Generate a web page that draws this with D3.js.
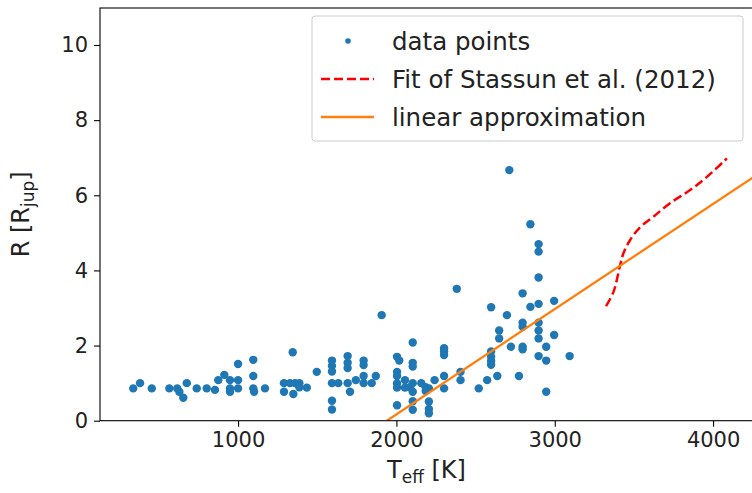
<!DOCTYPE html>
<html>
<head>
<meta charset="utf-8">
<script src="https://cdn.jsdelivr.net/npm/d3@7"></script>
<style>
  body { margin: 0; background: #fff; }
  svg { display: block; font-family: "DejaVu Sans", sans-serif; }
</style>
</head>
<body>
<svg id="chart" width="752" height="493"></svg>
<script>
// Data points: effective temperature [K] and radius [R_jup]
const teff = [
  338, 381, 455, 566, 616, 629, 654, 676, 739, 802, 854, 875, 913, 949, 949, 949,
  1000, 1000, 1000, 1096, 1096, 1096, 1101, 1170,
  1290, 1328, 1360, 1387, 1290, 1349, 1387, 1434, 1345, 1497,
  1593, 1593, 1593, 1593, 1633, 1593, 1593,
  1692, 1692, 1692, 1692, 1707, 1744, 1793, 1793, 1793, 1793, 1844, 1870, 1907,
  2004, 2018, 2103, 2103, 2103, 2004, 2004, 2004, 2004, 2054, 2054, 2086, 2103, 2103,
  2004, 2103, 2103, 2157, 2185, 2205, 2205, 2205, 2205, 2185, 2241,
  2301, 2301, 2301, 2301, 2301, 2381, 2405, 2405, 2520,
  2573, 2598, 2598, 2598, 2598, 2598, 2637, 2649, 2649, 2698, 2713, 2723, 2774,
  2797, 2797, 2797, 2797, 2797, 2846, 2846,
  2898, 2898, 2898, 2898, 2898, 2898, 2898, 2898,
  2946, 2946, 2946, 2996, 2996, 3094
];
const radius = [
  0.86, 1.00, 0.86, 0.86, 0.86, 0.77, 0.61, 1.00, 0.86, 0.86, 0.82, 1.08, 1.22, 1.08, 0.86, 0.77,
  1.08, 0.86, 1.51, 1.62, 1.19, 0.86, 0.77, 0.86,
  1.00, 1.00, 1.00, 1.00, 0.77, 0.71, 0.89, 0.88, 1.82, 1.30,
  1.60, 1.46, 1.31, 1.00, 1.00, 0.53, 0.30,
  1.72, 1.54, 1.40, 1.00, 0.77, 1.08, 1.60, 1.48, 1.19, 1.00, 1.00, 1.19, 2.81,
  1.70, 1.60, 2.08, 1.54, 1.44, 1.30, 1.19, 0.99, 0.88, 1.08, 0.88, 0.89, 1.00, 0.77,
  0.41, 0.52, 0.29, 1.00, 0.89, 0.86, 0.51, 0.31, 0.20, 0.79, 1.08,
  1.93, 1.84, 1.75, 1.19, 0.86, 3.51, 1.30, 1.08, 0.86,
  1.08, 1.84, 1.70, 1.59, 1.49, 3.02, 1.19, 2.40, 2.19, 2.81, 6.67, 1.97, 1.19,
  3.39, 2.61, 2.50, 1.97, 1.90, 5.23, 3.03,
  4.70, 4.50, 3.81, 3.11, 2.61, 2.40, 2.19, 1.72,
  1.97, 1.60, 0.77, 3.19, 2.28, 1.72
];

// Fit of Stassun et al. (2012)
const stassunT = [3324, 3371, 3413, 3434, 3476, 3539, 3623, 3728, 3855, 3961, 4087];
const stassunR = [3.05, 3.43, 4.14, 4.46, 4.81, 5.15, 5.43, 5.79, 6.14, 6.49, 6.98];

// Linear approximation (endpoints)
const linearT = [1940, 4260];
const linearR = [0.0, 6.50];

// Ticks
const xTicks = [1000, 2000, 3000, 4000];
const yTicks = [0, 2, 4, 6, 8, 10];

const legendLabels = ["data points", "Fit of Stassun et al. (2012)", "linear approximation"];

const svg = d3.select("#chart");
const L = 100, R = 753, T = 8, B = 420.7;

const x = d3.scaleLinear().domain([128, 4252]).range([L, R]);
const y = d3.scaleLinear().domain([0, 10.985]).range([B, T]);

svg.append("defs").append("clipPath").attr("id", "clip")
  .append("rect").attr("x", L).attr("y", T).attr("width", R - L).attr("height", B - T);

const plot = svg.append("g").attr("clip-path", "url(#clip)");

// scatter
plot.selectAll("circle.pt").data(teff.map((t, i) => [t, radius[i]]))
  .enter().append("circle")
  .attr("class", "pt")
  .attr("cx", d => x(d[0]))
  .attr("cy", d => y(d[1]))
  .attr("r", 4.2)
  .attr("fill", "#1f77b4");

// stassun fit
const stassun = stassunT.map((t, i) => [t, stassunR[i]]);
plot.append("path")
  .attr("d", d3.line().x(d => x(d[0])).y(d => y(d[1])).curve(d3.curveCatmullRom)(stassun))
  .attr("fill", "none")
  .attr("stroke", "#ff0000")
  .attr("stroke-width", 2.5)
  .attr("stroke-dasharray", "9,4");

// linear
const lin = linearT.map((t, i) => [t, linearR[i]]);
plot.append("path")
  .attr("d", d3.line().x(d => x(d[0])).y(d => y(d[1]))(lin))
  .attr("fill", "none")
  .attr("stroke", "#ff7f0e")
  .attr("stroke-width", 2.3);

// axes
const xAxis = d3.axisBottom(x).tickValues(xTicks).tickSize(6).tickPadding(5).tickFormat(d3.format("d"));
const yAxis = d3.axisLeft(y).tickValues(yTicks).tickSize(6).tickPadding(6).tickFormat(d3.format("d"));

const gx = svg.append("g").attr("transform", `translate(0,${B})`).call(xAxis);
const gy = svg.append("g").attr("transform", `translate(${L},0)`).call(yAxis);
[gx, gy].forEach(g => {
  g.select(".domain").remove();
  g.selectAll(".tick line").attr("stroke", "#000").attr("stroke-width", 1.1);
  g.selectAll(".tick text").attr("fill", "#222").style("font-size", "21px").style("font-family", "DejaVu Sans");
});

// spines
const spine = svg.append("g").attr("fill", "none").attr("stroke", "#000").attr("stroke-width", 1.1);
spine.append("rect").attr("x", L).attr("y", T).attr("width", R - L).attr("height", B - T);

// axis labels
const xl = svg.append("text").attr("x", (L + R) / 2).attr("y", 478)
  .attr("text-anchor", "middle").attr("fill", "#222").style("font-size", "24px");
xl.append("tspan").text("T");
xl.append("tspan").attr("dy", 5).style("font-size", "17px").text("eff");
xl.append("tspan").attr("dy", -5).text(" [K]");

const yl = svg.append("text").attr("transform", `translate(29,${(T + B) / 2}) rotate(-90)`)
  .attr("text-anchor", "middle").attr("fill", "#222").style("font-size", "24px");
yl.append("tspan").text("R [R");
yl.append("tspan").attr("dy", 5).style("font-size", "17px").text("jup");
yl.append("tspan").attr("dy", -5).text("]");

// legend
const lg = svg.append("g");
lg.append("rect").attr("x", 312).attr("y", 16).attr("width", 431).attr("height", 125)
  .attr("rx", 3).attr("fill", "#fff").attr("fill-opacity", 0.85)
  .attr("stroke", "#cccccc").attr("stroke-width", 1);
const rowsY = [41, 79, 117];
lg.append("circle").attr("cx", 348).attr("cy", rowsY[0]).attr("r", 2.8).attr("fill", "#1f77b4");
lg.append("line").attr("x1", 321).attr("x2", 374).attr("y1", rowsY[1]).attr("y2", rowsY[1])
  .attr("stroke", "#ff0000").attr("stroke-width", 2.5).attr("stroke-dasharray", "9,4");
lg.append("line").attr("x1", 321).attr("x2", 374).attr("y1", rowsY[2]).attr("y2", rowsY[2])
  .attr("stroke", "#ff7f0e").attr("stroke-width", 2.3);
legendLabels.forEach((t, i) => {
  lg.append("text").attr("x", 392).attr("y", rowsY[i]).attr("dy", "0.35em")
    .attr("fill", "#222").style("font-size", "24.5px").text(t);
});
</script>
</body>
</html>
